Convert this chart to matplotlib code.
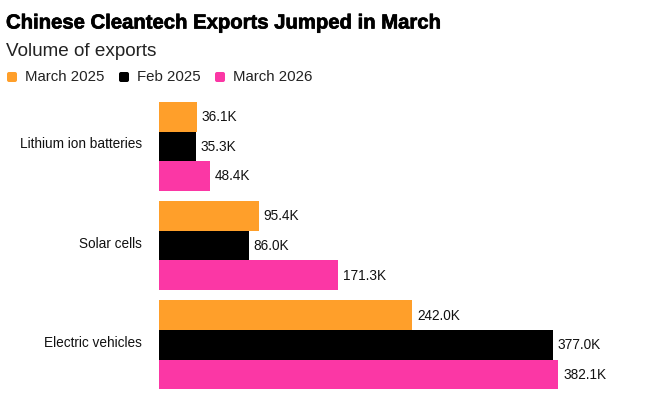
import matplotlib
matplotlib.use('Agg')
import matplotlib.pyplot as plt
import matplotlib.patheffects as pe
from matplotlib.patches import FancyBboxPatch
from matplotlib.transforms import IdentityTransform

categories = ['Lithium ion batteries', 'Solar cells', 'Electric vehicles']
series_names = ['March 2025', 'Feb 2025', 'March 2026']
march_2025 = [36.1, 95.4, 242.0]
feb_2025 = [35.3, 86.0, 377.0]
march_2026 = [48.4, 171.3, 382.1]
colors = ['#FF9F2A', '#000000', '#FB37A5']

plt.rcParams['font.family'] = ['Liberation Sans', 'DejaVu Sans']

fig = plt.figure(figsize=(6.52, 4.08), dpi=100)
# bars start at x=159px, plot area runs y=102px to 390px
ax = fig.add_axes([159 / 652, 1 - 390 / 408, (652 - 159) / 652, 288 / 408])

bar_h = 29.6
group_gap = 99.2
series = [march_2025, feb_2025, march_2026]
for i, vals in enumerate(series):
    for j, v in enumerate(vals):
        y = j * group_gap + i * bar_h
        ax.barh(y, v, height=bar_h, color=colors[i], align='edge', linewidth=0)
        ax.annotate(f'{v:.1f}K', (v, y + bar_h / 2), xytext=(3.6, -0.3), textcoords='offset points',
                    va='center', ha='left', fontsize=9.8, color='#111111')

ax.set_xlim(0, 493 / 1.045)
ax.set_ylim(288, 0)
ax.axis('off')

for j, c in enumerate(categories):
    ax.annotate(c, (0, j * group_gap + 1.5 * bar_h), xytext=(-12, 1.5), textcoords='offset points',
                va='center', ha='right', fontsize=9.8, color='#111111')

title = fig.text(6 / 652, 1 - 23 / 408, 'Chinese Cleantech Exports Jumped in March', fontsize=14.6,
                 fontweight='bold', va='center', ha='left', color='#000000')
title.set_path_effects([pe.withStroke(linewidth=0.5, foreground='#000000')])
fig.text(6 / 652, 1 - 52 / 408, 'Volume of exports', fontsize=13.6, va='center', ha='left', color='#222222')

# legend squares with rounded corners, placed in pixels
leg_x = [7, 119, 215]
text_x = [25, 137, 233]
for x, tx, name, col in zip(leg_x, text_x, series_names, colors):
    fig.add_artist(FancyBboxPatch((x + 1, 408 - 81), 8, 8, boxstyle='round,pad=1,rounding_size=2',
                                  facecolor=col, edgecolor='none', transform=IdentityTransform()))
    fig.text(tx / 652, 1 - 77 / 408, name, fontsize=10.8, va='center', ha='left', color='#222222')

fig.savefig('out.png', dpi=100)
